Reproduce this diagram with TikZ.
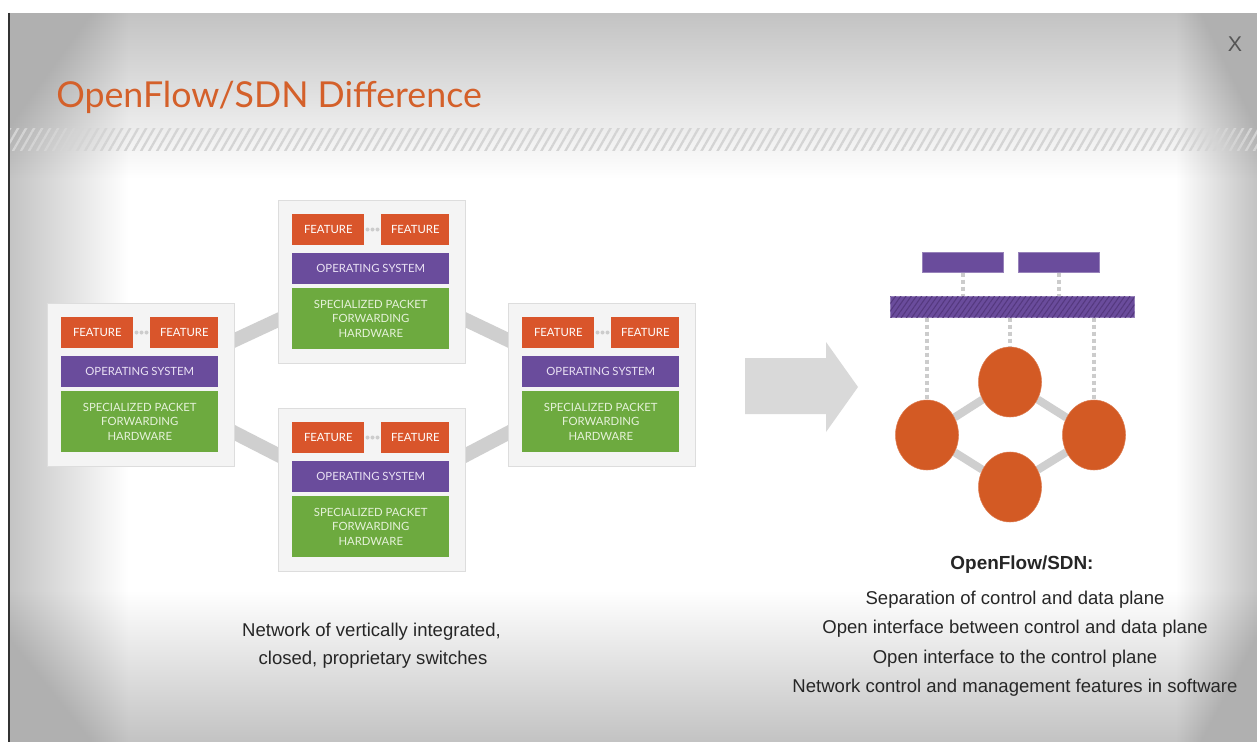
\documentclass[tikz,border=0pt]{standalone}
\usepackage{fontspec}
\setmainfont{Liberation Sans}
\newfontfamily\titlefont{Lato}
\newfontfamily\boxfont{Lato}
\usetikzlibrary{shapes.geometric,patterns.meta,calc}
\pgfdeclarelayer{bg}\pgfdeclarelayer{mid}\pgfsetlayers{bg,mid,main}
\definecolor{titleorange}{HTML}{D4602A}
\definecolor{featorange}{HTML}{D9552B}
\definecolor{circorange}{HTML}{D35A24}
\definecolor{ospurple}{HTML}{6A4C9C}
\definecolor{hatchpurple}{HTML}{55397F}
\definecolor{hwgreen}{HTML}{6DAA3F}
\definecolor{oslabel}{HTML}{EAE2F4}
\definecolor{hwlabel}{HTML}{E6F2DA}
\definecolor{panelfill}{HTML}{F4F4F4}
\definecolor{panelborder}{HTML}{DDDDDD}
\definecolor{conngray}{HTML}{CFCFCF}
\definecolor{arrowgray}{HTML}{D9D9D9}
\definecolor{dotgray}{HTML}{CCCCCC}
\definecolor{edgegray}{HTML}{B0B0B0}
\definecolor{hatchgray}{HTML}{D4D4D4}
\definecolor{textdark}{HTML}{262626}
\definecolor{xgray}{HTML}{555555}
\newcommand\pxu[1]{#1*0.75pt}
\newcommand\swpanel[3]{%
  \node[panel, anchor=north west] (#1) at (#2,#3) {};
  \node[feat, anchor=north west] (#1-f1) at ({#2+14},{#3+14}) {FEATURE};
  \node[feat, anchor=north west, minimum width=\pxu{68}] (#1-f2) at ({#2+103},{#3+14}) {FEATURE};
  \node[osbox, anchor=north west] (#1-os) at ({#2+14},{#3+53}) {OPERATING SYSTEM};
  \node[hwbox, anchor=north west] (#1-hw) at ({#2+14},{#3+88}) {SPECIALIZED PACKET\\FORWARDING\\HARDWARE};
  \foreach \dx in {89.5,94.5,99.5} \fill[dotgray] ({#2+\dx},{#3+29.5}) circle[radius=\pxu{2}];
}
\begin{document}
\begin{tikzpicture}[x=0.75pt,y=-0.75pt,
  panel/.style={draw=panelborder, fill=panelfill, line width=0.8pt, minimum width=\pxu{187}, minimum height=\pxu{163}, inner sep=0},
  boxbase/.style={inner sep=0, font=\boxfont\fontsize{8.5}{10.8}\selectfont, align=center},
  feat/.style={boxbase, fill=featorange, text=white, minimum width=\pxu{72}, minimum height=\pxu{31}},
  osbox/.style={boxbase, fill=ospurple, text=oslabel, minimum width=\pxu{157}, minimum height=\pxu{31}},
  hwbox/.style={boxbase, fill=hwgreen, text=hwlabel, minimum width=\pxu{157}, minimum height=\pxu{61}},
  conn/.style={draw=conngray, line width=\pxu{14}, shorten <=-\pxu{10}, shorten >=-\pxu{10}},
  pbar/.style={fill=ospurple, draw=ospurple!70, line width=0.4pt, inner sep=0, minimum height=\pxu{20}, minimum width=\pxu{81}},
  hbar/.style={fill=ospurple, draw=ospurple!70, line width=0.4pt, inner sep=0, minimum height=\pxu{21}, minimum width=\pxu{244},
     postaction={pattern={Lines[angle=55,distance=3.2pt,line width=0.8pt]}, pattern color=hatchpurple}},
  circ/.style={ellipse, fill=circorange, draw=circorange!80!white, line width=0.4pt, minimum width=\pxu{63}, minimum height=\pxu{70}, inner sep=0},
  clink/.style={draw=conngray, line width=\pxu{8}},
  dotl/.style={draw=dotgray, line width=\pxu{3.5}, dash pattern=on \pxu{4} off \pxu{3}},
  body/.style={text=textdark, font=\fontsize{13.9}{16}\selectfont, inner sep=0},
  vig/.style={fill=edgegray}
]
\useasboundingbox (0,0) rectangle (1257,742);
\begin{pgfonlayer}{bg}
  \fill[white] (0,0) rectangle (1257,742);
  \begin{scope}
    \clip (8,13) rectangle (1257,742);
    \foreach \i [evaluate=\i as \dt using 165*\i/60,
                 evaluate=\i as \dl using 120*\i/60,
                 evaluate=\i as \dr using 80*\i/60,
                 evaluate=\i as \db using 150*\i/60] in {1,...,60} {
      \fill[vig, fill opacity=0.013] (8,13) rectangle (1257,{13+\dt});
      \fill[vig, fill opacity=0.011] (8,13) rectangle ({8+\dl},742);
      \fill[vig, fill opacity=0.013] ({1257-\dr},13) rectangle (1257,742);
      \fill[vig, fill opacity=0.010] (8,{742-\db}) rectangle (1257,742);
    }
    \fill[pattern={Lines[angle=60,distance=5.2pt,line width=1.7pt]}, pattern color=hatchgray] (8,128) rectangle (1257,150);
  \end{scope}
  \draw[black!80, line width=\pxu{2}] (9,13) -- (9,742);
\end{pgfonlayer}

\node[anchor=base west, text=titleorange, font=\titlefont\fontsize{26.8}{30}\selectfont, inner sep=0] (title) at (56,108) {OpenFlow/SDN Difference};
\node[text=xgray, font=\fontsize{16}{18}\selectfont, inner sep=0] (close) at (1235,44) {X};

\swpanel{L}{47}{303}
\swpanel{T}{278}{200}
\swpanel{B}{278}{408}
\swpanel{R}{508}{303}

\begin{pgfonlayer}{mid}
  \draw[conn] ($(L.north east)+(0,37)$) -- ($(T.north west)+(0,120)$);
  \draw[conn] ($(L.north east)+(0,130)$) -- ($(B.north west)+(0,47)$);
  \draw[conn] ($(T.north east)+(0,120)$) -- ($(R.north west)+(0,37)$);
  \draw[conn] ($(B.north east)+(0,47)$) -- ($(R.north west)+(0,130)$);
\end{pgfonlayer}

\fill[arrowgray] (745,358) -- (826,358) -- (826,342) -- (858,387) -- (826,432) -- (826,414) -- (745,414) -- cycle;

\node[pbar, anchor=north west] (s1) at (922,252) {};
\node[pbar, anchor=north west] (s2) at (1018,252) {};
\node[hbar, anchor=north west] (hb) at (890,296) {};
\node[circ] (ct) at (1010,382) {};
\node[circ] (cl) at (927,435) {};
\node[circ] (cr) at (1094,435) {};
\node[circ] (cb) at (1010,487) {};
\begin{pgfonlayer}{mid}
  \draw[clink] (ct) -- (cl);
  \draw[clink] (ct) -- (cr);
  \draw[clink] (cl) -- (cb);
  \draw[clink] (cr) -- (cb);
  \draw[dotl] (s1.south) -- (s1.south |- hb.north);
  \draw[dotl] (s2.south) -- (s2.south |- hb.north);
  \draw[dotl] (hb.south -| cl.north) -- (cl.north);
  \draw[dotl] (hb.south -| ct.north) -- (ct.north);
  \draw[dotl] (hb.south -| cr.north) -- (cr.north);
\end{pgfonlayer}

\node[body, font=\bfseries\fontsize{14.2}{16}\selectfont, anchor=base] (head) at (1022,569) {OpenFlow/SDN:};
\node[body, anchor=base] (r1) at (1015,604) {Separation of control and data plane};
\node[body, anchor=base] (r2) at (1015,633) {Open interface between control and data plane};
\node[body, anchor=base] (r3) at (1015,663) {Open interface to the control plane};
\node[body, anchor=base] (r4) at (1015,692) {Network control and management features in software};

\node[body, anchor=base] (l1) at (371.5,636) {Network of vertically integrated,};
\node[body, anchor=base] (l2) at (373,664) {closed, proprietary switches};
\end{tikzpicture}
\end{document}
